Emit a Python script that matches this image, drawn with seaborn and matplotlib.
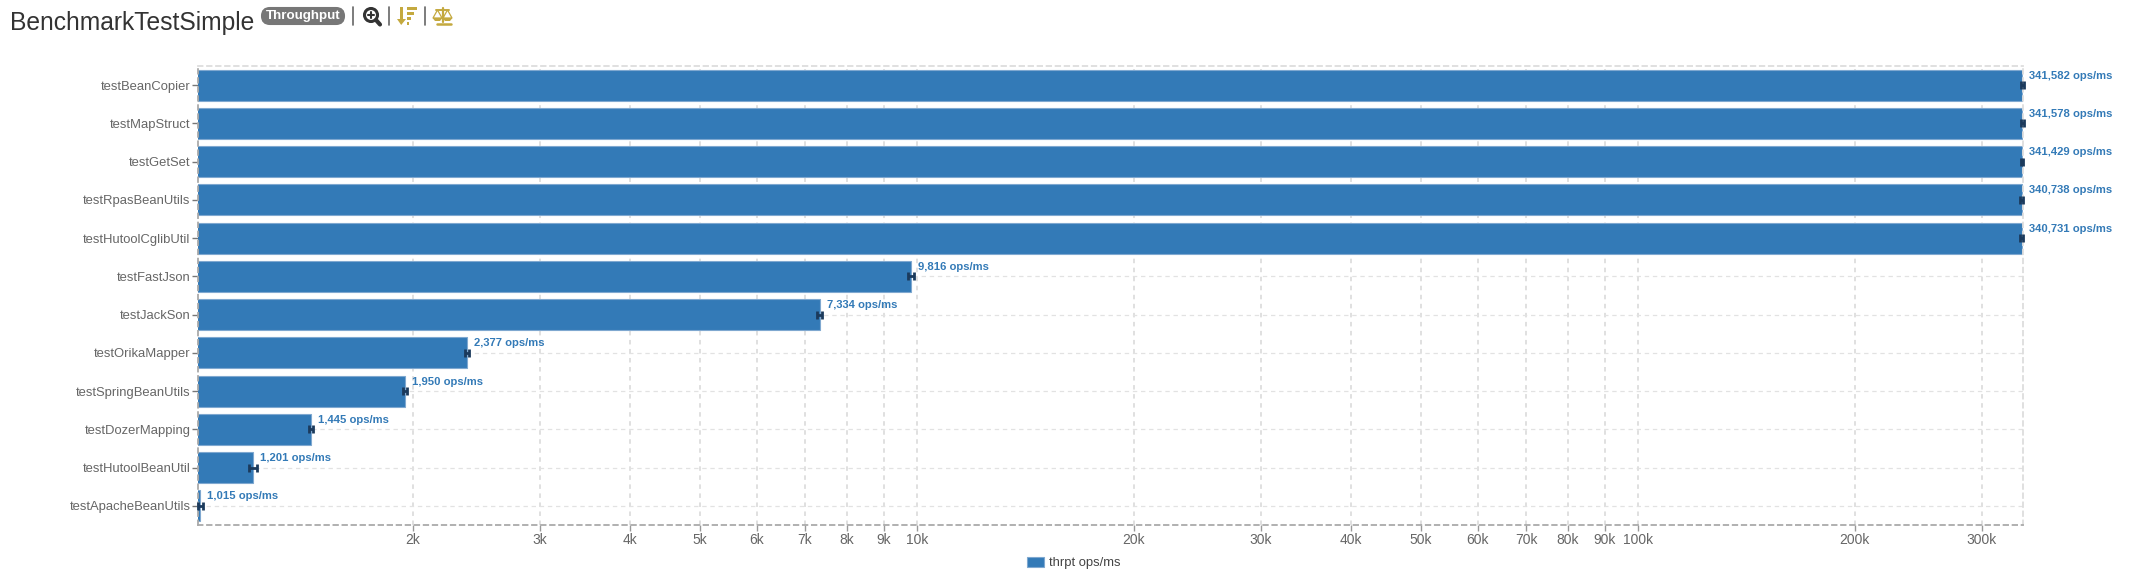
import matplotlib
matplotlib.use('Agg')
import matplotlib.pyplot as plt
import pandas as pd
import seaborn as sns
from matplotlib.patches import Circle, FancyBboxPatch, Polygon, Rectangle

methods = ['testBeanCopier', 'testMapStruct', 'testGetSet', 'testRpasBeanUtils', 'testHutoolCglibUtil',
           'testFastJson', 'testJackSon', 'testOrikaMapper', 'testSpringBeanUtils', 'testDozerMapping',
           'testHutoolBeanUtil', 'testApacheBeanUtils']
thrpt = [341582, 341578, 341429, 340738, 340731, 9816, 7334, 2377, 1950, 1445, 1201, 1015]
errors = [1300, 1300, 1300, 1300, 1300, 95, 60, 15, 10, 9, 14, 7]
tick_values = [2000, 3000, 4000, 5000, 6000, 7000, 8000, 9000, 10000, 20000, 30000, 40000,
               50000, 60000, 70000, 80000, 90000, 100000, 200000, 300000]
tick_labels = ['2k', '3k', '4k', '5k', '6k', '7k', '8k', '9k', '10k', '20k', '30k', '40k',
               '50k', '60k', '70k', '80k', '90k', '100k', '200k', '300k']

BLUE = '#337ab7'
GOLD = '#c4a93f'
W, H = 2129, 574

sns.set_theme(style='white')
plt.rcParams['font.family'] = ['Liberation Sans', 'DejaVu Sans']

df = pd.DataFrame({'method': methods, 'thrpt': thrpt})

fig = plt.figure(figsize=(W / 100, H / 100), dpi=100)
ax = fig.add_axes([198 / W, 1 - 525 / H, (2023 - 198) / W, (525 - 66) / H])
ax.set_xscale('log')
sns.barplot(data=df, x='thrpt', y='method', orient='h', color=BLUE, saturation=1, width=0.81,
            edgecolor='#7fa8d0', linewidth=0.8, label='thrpt ops/ms', ax=ax, zorder=2)
ax.errorbar(thrpt, range(len(methods)), xerr=errors, fmt='none', ecolor='#1b3a5c',
            elinewidth=2, capsize=3, capthick=2, zorder=3, clip_on=False)

ax.set_xlim(1007, 342300)
ax.set_ylim(11.5, -0.5)
ax.set_xticks(tick_values)
ax.set_xticklabels(tick_labels)
ax.xaxis.set_minor_locator(matplotlib.ticker.NullLocator())
ax.set_xlabel('')
ax.set_ylabel('')
ax.tick_params(axis='x', bottom=True, length=4, width=1, color='#999999', labelcolor='#666666', labelsize=10, pad=1.5)
ax.tick_params(axis='y', left=True, length=4, width=1, color='#777777', labelcolor='#666666', labelsize=9.4, pad=1.5)

ax.set_axisbelow(True)
ax.grid(True, axis='x', color='#dddddd', linestyle=(0, (2.5, 2.5)), linewidth=1.3)
ax.grid(True, axis='y', color='#e2e2e2', linestyle=(0, (3.5, 3)), linewidth=0.9)
for side in ['top', 'right']:
    ax.spines[side].set_visible(True)
    ax.spines[side].set_color('#dddddd')
    ax.spines[side].set_linestyle((0, (2.5, 2.5)))
    ax.spines[side].set_linewidth(1.3)
for side in ['left', 'bottom']:
    ax.spines[side].set_visible(True)
    ax.spines[side].set_color('#aaaaaa')
    ax.spines[side].set_linestyle((0, (2.5, 2.5)))
    ax.spines[side].set_linewidth(1.3)

for i, v in enumerate(thrpt):
    ax.annotate(f'{v:,} ops/ms', (v, i), xytext=(5, 6.8), textcoords='offset points',
                color=BLUE, fontsize=8.1, fontweight='bold', va='center', ha='left',
                annotation_clip=False)

ax.legend(loc='center', bbox_to_anchor=(1074 / W, 1 - 563 / H), bbox_transform=fig.transFigure,
          frameon=False, fontsize=9.4, labelcolor='#444444', handlelength=1.25, handleheight=0.85,
          handletextpad=0.4, borderpad=0)

# page header above the chart, drawn in pixel coordinates
top = fig.add_axes([0, 0, 1, 1], facecolor='none')
top.set_xlim(0, W)
top.set_ylim(H, 0)
top.axis('off')
top.text(10, 30, 'BenchmarkTestSimple', fontsize=17.7, color='#333333', va='baseline', ha='left')
top.add_patch(FancyBboxPatch((262, 8), 82, 16, boxstyle='round,pad=0,rounding_size=8', fc='#777777', ec='#777777', lw=1.5))
top.text(303, 16, 'Throughput', fontsize=9.6, fontweight='bold', color='white', va='center', ha='center')
for x in [353, 389, 425]:
    top.plot([x, x], [7, 25], color='#666666', lw=1.2)
# magnifier
top.add_patch(Circle((371, 15), 6.5, fc='white', ec='#333333', lw=2.2))
top.plot([376, 380], [20, 24.5], color='#333333', lw=3, solid_capstyle='round')
top.plot([368, 374], [15, 15], color='#333333', lw=1.5)
top.plot([371, 371], [12, 18], color='#333333', lw=1.5)
# sort icon
top.add_patch(Rectangle((400, 7), 2.5, 15, fc=GOLD, ec='none'))
top.add_patch(Polygon([[397, 19], [406, 19], [401.2, 25]], fc=GOLD, ec='none'))
for y, x2 in [(7, 417), (12, 414), (17, 411), (22, 409)]:
    top.add_patch(Rectangle((407, y), x2 - 407, 2.6, fc=GOLD, ec='none'))
# balance icon
top.plot([442.5, 442.5], [8, 22], color=GOLD, lw=1.6)
top.plot([436, 449], [10, 10], color=GOLD, lw=1.4)
top.plot([437, 451], [23.5, 23.5], color=GOLD, lw=1.8)
for cx in [437.5, 447.5]:
    top.add_patch(Polygon([[cx, 10], [cx - 4.5, 18], [cx + 4.5, 18]], fc='none', ec=GOLD, lw=0.9))
    top.add_patch(Polygon([[cx - 5, 18], [cx + 5, 18], [cx + 2.5, 21], [cx - 2.5, 21]], fc=GOLD, ec='none'))

fig.savefig('out.png', dpi=100)
